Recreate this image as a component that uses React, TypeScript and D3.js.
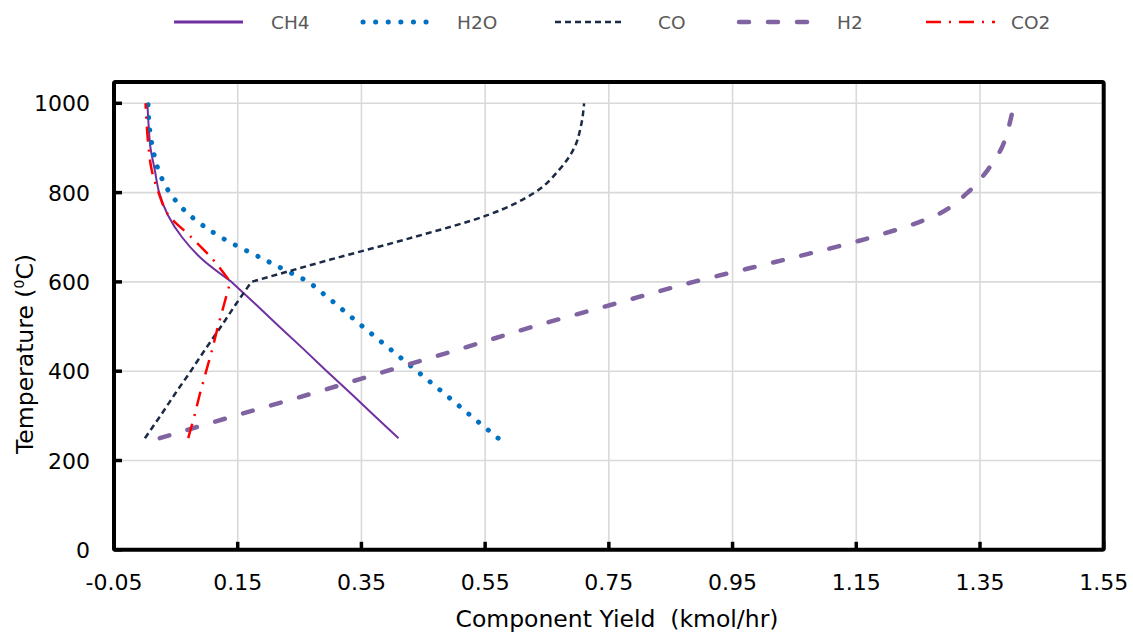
import React from "react";
import * as d3 from "d3";

const temps = [250, 300, 350, 400, 450, 500, 550, 600, 650, 700, 750, 800, 850, 900, 950, 1000];
const ch4 = [0.41, 0.371, 0.333, 0.294, 0.256, 0.217, 0.179, 0.14, 0.093, 0.06, 0.037, 0.023, 0.016, 0.009, 0.006, 0.004];
const h2o = [0.571, 0.527, 0.484, 0.44, 0.396, 0.352, 0.309, 0.265, 0.193, 0.123, 0.072, 0.04, 0.022, 0.0125, 0.007, 0.005];
const co = [0.0, 0.025, 0.049, 0.074, 0.098, 0.123, 0.147, 0.172, 0.3, 0.434, 0.555, 0.63, 0.669, 0.694, 0.705, 0.71];
const h2 = [0.024, 0.145, 0.27, 0.39, 0.51, 0.628, 0.757, 0.887, 1.035, 1.175, 1.28, 1.33, 1.362, 1.385, 1.397, 1.405];
const co2 = [0.07, 0.08, 0.089, 0.099, 0.109, 0.118, 0.128, 0.138, 0.11, 0.075, 0.038, 0.022, 0.011, 0.006, 0.003, 0.001];

const xTickValues = [-0.05, 0.15, 0.35, 0.55, 0.75, 0.95, 1.15, 1.35, 1.55];
const xTickLabels = ["-0.05", "0.15", "0.35", "0.55", "0.75", "0.95", "1.15", "1.35", "1.55"];
const yTickValues = [0, 200, 400, 600, 800, 1000];

const seriesNames = ["CH4", "H2O", "CO", "H2", "CO2"];
const seriesValues = [ch4, h2o, co, h2, co2];
// index of the temperature where the curve has a sharp corner (-1 = none)
const kinkIndex = [7, 7, 7, -1, 7];

const styles = [
  { color: "#7030A0", width: 2, dash: "", cap: "butt" },
  { color: "#0070C0", width: 5, dash: "0.1 12.5", cap: "round" },
  { color: "#1B2A45", width: 2.5, dash: "6 4", cap: "butt" },
  { color: "#8064A2", width: 4.5, dash: "10 19", cap: "round" },
  { color: "#FF0000", width: 2.5, dash: "15 8 2 8", cap: "butt" },
];

const legendLineX = [174, 363, 555, 739, 926];
const legendTextX = [271, 457, 658, 837, 1011];

export default function App() {
  const W = 1133;
  const H = 632;
  const left = 114;
  const right = 1103.7;
  const top = 82;
  const bottom = 549.8;
  const x = d3.scaleLinear().domain([-0.05, 1.55]).range([left, right]);
  const y = d3.scaleLinear().domain([0, 1000]).range([bottom, 103.3]);

  const smooth = d3
    .line<[number, number]>()
    .x((d) => x(d[0]))
    .y((d) => y(d[1]))
    .curve(d3.curveMonotoneY);
  const straight = d3
    .line<[number, number]>()
    .x((d) => x(d[0]))
    .y((d) => y(d[1]));

  const font = "'DejaVu Sans', Verdana, sans-serif";

  const buildPath = (vals: number[], k: number) => {
    const pts: [number, number][] = vals.map((v, j) => [v, temps[j]]);
    if (k < 0) return smooth(pts) || "";
    const lower = pts.slice(0, k + 1);
    const upper = pts.slice(k);
    const a = straight(lower) || "";
    const b = (smooth(upper) || "").replace(/^M[^A-Za-z]*/, "");
    return a + b;
  };

  return (
    <svg
      width={W}
      height={H}
      style={{ position: "absolute", left: 0, top: 0, background: "#fff" }}
      fontFamily={font}
    >
      <rect x={0} y={0} width={W} height={H} fill="#fff" />
      {xTickValues.slice(1, -1).map((v) => (
        <line key={"gx" + v} x1={x(v)} x2={x(v)} y1={top} y2={bottom} stroke="#d9d9d9" strokeWidth={1.6} />
      ))}
      {yTickValues.slice(1).map((v) => (
        <line key={"gy" + v} x1={left} x2={right} y1={y(v)} y2={y(v)} stroke="#d9d9d9" strokeWidth={1.6} />
      ))}
      {seriesValues.map((vals, i) => {
        const s = styles[i];
        return (
          <path
            key={seriesNames[i]}
            d={buildPath(vals, kinkIndex[i])}
            fill="none"
            stroke={s.color}
            strokeWidth={s.width}
            strokeDasharray={s.dash || undefined}
            strokeLinecap={s.cap as any}
            strokeLinejoin="round"
          />
        );
      })}
      <rect x={left} y={top} width={right - left} height={bottom - top} fill="none" stroke="#000" strokeWidth={4} rx={1.5} />
      {yTickValues.map((v) => (
        <line key={"ty" + v} x1={left} x2={left + 8} y1={y(v)} y2={y(v)} stroke="#000" strokeWidth={3.5} />
      ))}
      {xTickValues.map((v) => (
        <line key={"tx" + v} x1={x(v)} x2={x(v)} y1={bottom} y2={bottom - 8} stroke="#000" strokeWidth={3.5} />
      ))}
      {yTickValues.map((v) => (
        <text key={"ly" + v} x={90} y={y(v) + 8} textAnchor="end" fontSize={22} fill="#000">
          {v}
        </text>
      ))}
      {xTickValues.map((v, i) => (
        <text key={"lx" + v} x={x(v)} y={590} textAnchor="middle" fontSize={22} fill="#000">
          {xTickLabels[i]}
        </text>
      ))}
      <text x={617} y={627} textAnchor="middle" fontSize={23.5} fill="#000" style={{ whiteSpace: "pre" }}>
        {"Component Yield  (kmol/hr)"}
      </text>
      <text transform="translate(33,354) rotate(-90)" textAnchor="middle" fontSize={23.5} fill="#000">
        <tspan>Temperature (</tspan>
        <tspan fontSize={14} dy={-9}>0</tspan>
        <tspan dy={9}>C)</tspan>
      </text>
      {seriesNames.map((n, i) => {
        const s = styles[i];
        return (
          <g key={"lg" + n}>
            <line
              x1={legendLineX[i]}
              x2={legendLineX[i] + 69}
              y1={22}
              y2={22}
              stroke={s.color}
              strokeWidth={i === 0 ? 3 : s.width}
              strokeDasharray={s.dash || undefined}
              strokeLinecap={s.cap as any}
            />
            <text x={legendTextX[i]} y={29} fontSize={18.5} fill="#595959">
              {n}
            </text>
          </g>
        );
      })}
    </svg>
  );
}
